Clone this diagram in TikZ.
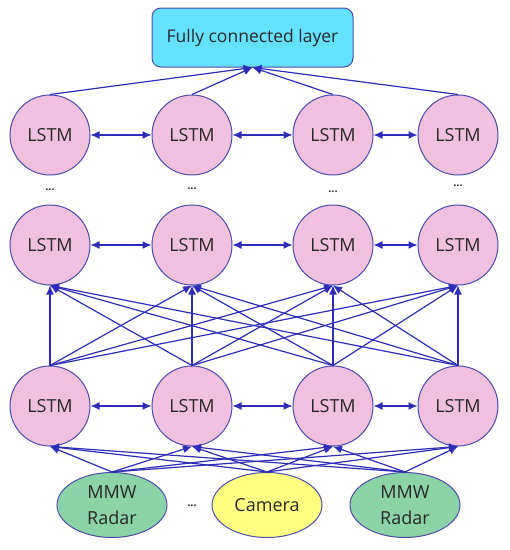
\documentclass[tikz,border=0pt]{standalone}
\usepackage{fontspec}
\setmainfont{Open Sans}
\usetikzlibrary{arrows.meta,shapes.geometric}
\definecolor{lstmpink}{RGB}{240,192,222}
\definecolor{nodeborder}{RGB}{75,75,175}
\definecolor{linecol}{RGB}{45,45,185}
\definecolor{fccyan}{RGB}{100,225,255}
\definecolor{radargreen}{RGB}{140,212,168}
\definecolor{camyellow}{RGB}{255,255,130}
\definecolor{txt}{RGB}{40,40,40}
\begin{document}
\begin{tikzpicture}[x=1pt,y=-1pt,
  lstm/.style={circle,draw=nodeborder,line width=1pt,fill=lstmpink,minimum size=80pt,inner sep=0pt,font=\fontsize{18}{20}\selectfont,text=txt},
  sensor/.style={ellipse,draw=nodeborder,line width=1pt,minimum width=110pt,minimum height=65pt,inner sep=0pt,align=center,font=\fontsize{18}{26}\selectfont,text=txt},
  fcbox/.style={rectangle,rounded corners=9pt,draw=nodeborder,line width=1pt,fill=fccyan,minimum width=201pt,minimum height=59pt,font=\fontsize{17.5}{20}\selectfont,text=txt},
  dots/.style={font=\fontsize{11}{12}\selectfont\bfseries,text=txt},
  conn/.style={draw=linecol,line width=1.2pt,-{Latex[length=9pt,width=8pt]}},
  biconn/.style={draw=linecol,line width=1.2pt,{Latex[length=9pt,width=8pt]}-{Latex[length=9pt,width=8pt]}}]
\useasboundingbox (0,0) rectangle (510,550);
% nodes
\node[fcbox] (fc) at (252.5,37.5) {Fully connected layer};
\foreach \i/\x in {1/50,2/192,3/333,4/458}{
  \node[lstm] (a\i) at (\x,135) {LSTM};
  \node[lstm] (b\i) at (\x,245) {LSTM};
  \node[lstm] (c\i) at (\x,406) {LSTM};
}
\node[dots] (d1) at (50,190) {...};
\node[dots] (d2) at (192,189) {...};
\node[dots] (d3) at (333,192) {...};
\node[dots] (d4) at (458,186) {...};
\node[sensor,fill=radargreen] (s1) at (112,505) {MMW\\Radar};
\node[sensor,fill=camyellow] (s2) at (267,505) {Camera};
\node[sensor,fill=radargreen] (s3) at (405,505) {MMW\\Radar};
\node[dots] (sd) at (192,506) {...};
% connectors
\foreach \i in {1,2,3,4}{
  \draw[conn] (a\i.north) -- (fc.south);
}
\foreach \r in {a,b,c}{
  \draw[biconn] (\r1.east) -- (\r2.west);
  \draw[biconn] (\r2.east) -- (\r3.west);
  \draw[biconn] (\r3.east) -- (\r4.west);
}
\foreach \i in {1,2,3,4}{
  \foreach \j in {1,2,3,4}{
    \draw[conn] (c\i.north) -- (b\j.south);
  }
}
\foreach \s in {1,2,3}{
  \foreach \j in {1,2,3,4}{
    \draw[conn] (s\s.north) -- (c\j.south);
  }
}
\end{tikzpicture}
\end{document}
